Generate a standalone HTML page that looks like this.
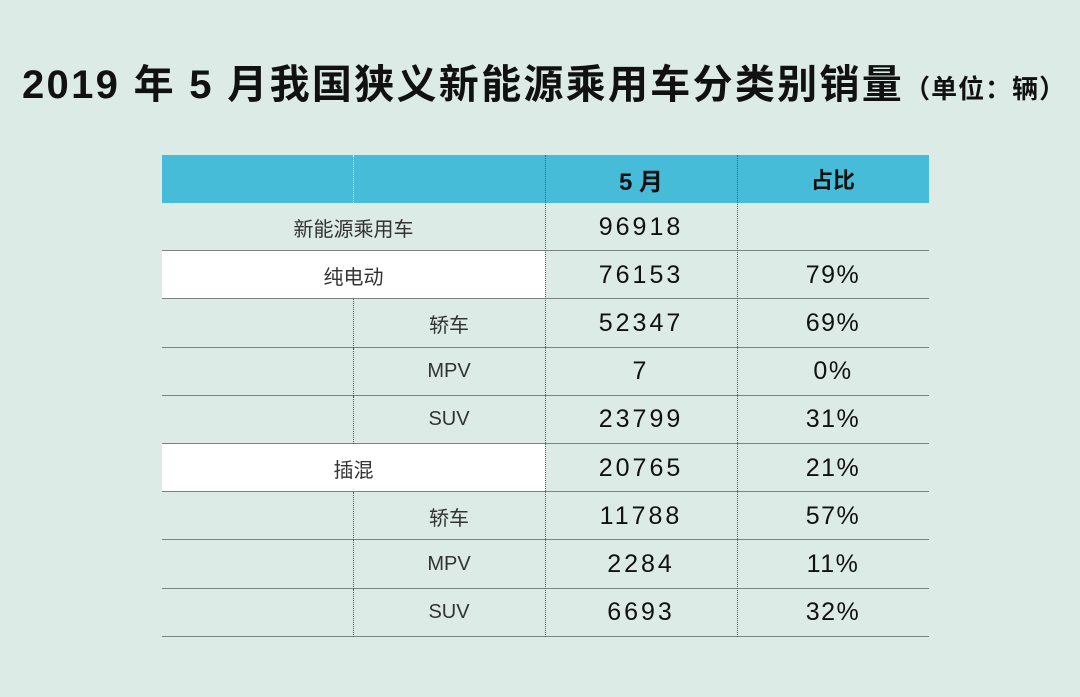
<!DOCTYPE html>
<html><head><meta charset="utf-8"><style>
body{margin:0;width:1080px;height:697px;background:#dcebe6;position:relative;overflow:hidden;font-family:"Liberation Sans","Noto Sans CJK SC",sans-serif}
#title{position:absolute;left:22px;top:52px;font-size:40px;font-weight:bold;color:#111;white-space:nowrap;letter-spacing:2.3px}
#title span{font-size:26px;letter-spacing:1px}
.cell{position:absolute;display:flex;align-items:center;justify-content:center;color:#222}
.hline{position:absolute;height:1px;background:#7a8582}
.vline{position:absolute;width:0;border-left:1px dotted #555}
</style></head><body>
<div id="title">2019 年 5 月我国狭义新能源乘用车分类别销量<span>（单位：辆）</span></div>
<div id="table"></div>
<script>
const labels=["新能源乘用车","纯电动","轿车","MPV","SUV","插混","轿车","MPV","SUV"];
const levels=[0,1,2,2,2,1,2,2,2];
const sales=["96918","76153","52347","7","23799","20765","11788","2284","6693"];
const shares=["","79%","69%","0%","31%","21%","57%","11%","32%"];
const X=[162,353,545,737,929],top0=155,hh=48,rh=48.2;
const t=document.getElementById('table');
function add(cls,st,txt){const d=document.createElement('div');d.className=cls;Object.assign(d.style,st);if(txt!==undefined)d.textContent=txt;t.appendChild(d);return d;}
let h=add('cell',{left:X[0]+'px',top:top0+'px',width:(X[4]-X[0])+'px',height:hh+'px',background:'#47bcd9'});


let c1=add('cell',{left:X[2]+'px',top:top0+'px',width:'192px',height:hh+'px',fontSize:'24px',fontWeight:'bold',color:'#111'},'5 月');


let c2=add('cell',{left:X[3]+'px',top:top0+'px',width:'192px',height:hh+'px',fontSize:'22px',fontWeight:'bold',color:'#111'},'占比');


labels.forEach((lab,i)=>{
  const y=top0+hh+i*rh;
  if(levels[i]===1){const w=add('cell',{left:X[0]+'px',top:y+'px',width:(X[2]-X[0])+'px',height:rh+'px',background:'#fff'});
    
    }
  const lx=levels[i]===2?X[1]:X[0], lw=levels[i]===2?X[2]-X[1]:X[2]-X[0];
  const l=add('cell',{left:lx+'px',top:y+'px',width:lw+'px',height:rh+'px',fontSize:'20px',color:'#333'},lab);
  
  
  const s=add('cell',{left:X[2]+'px',top:y+'px',width:'192px',height:rh+'px',fontSize:'25px',letterSpacing:'3px',color:'#111'},sales[i]);
  
  
  const p=add('cell',{left:X[3]+'px',top:y+'px',width:'192px',height:rh+'px',fontSize:'25px',letterSpacing:'1.5px',color:'#111'},shares[i]);
  
  
  const ln=add('hline',{left:X[0]+'px',top:(y+rh-1)+'px',width:(X[4]-X[0])+'px'});
  
  
  if(levels[i]===2){const v=add('vline',{left:X[1]+'px',top:y+'px',height:rh+'px'});
    
    }
});
const bottom=top0+hh+labels.length*rh;
[[X[1],top0,hh],[X[2],top0,bottom-top0],[X[3],top0,bottom-top0]].forEach(a=>{
  const v=add('vline',{left:a[0]+'px',top:a[1]+'px',height:a[2]+'px',borderLeftColor:a[1]===top0&&a[2]===hh?'#fff':'#555'});
  
  
});
</script>
</body></html>
